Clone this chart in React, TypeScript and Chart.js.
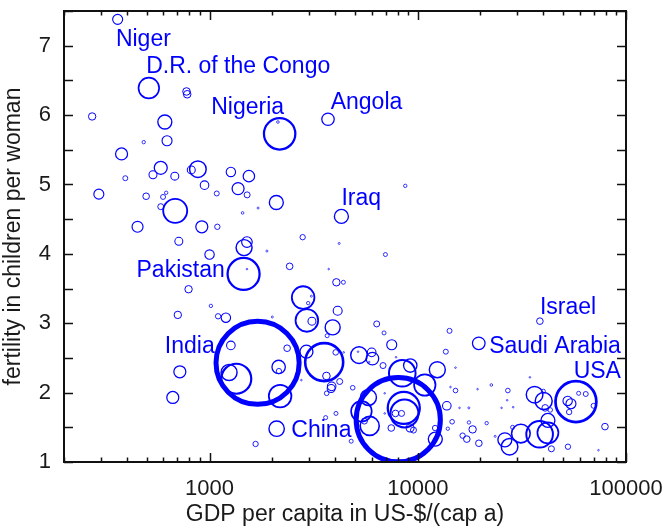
import React, { useEffect, useRef } from 'react';
import { Chart, registerables } from 'chart.js';

Chart.register(...registerables);

// GDP per capita (US-$/(cap a)) of each country
const gdp = [
  362, 511, 775, 781, 273, 610, 2171, 2130, 3706, 483,
  625, 378, 394, 583, 535, 681, 879, 817, 1266, 1545,
  946, 294, 496, 598, 619, 1083, 1371, 1515, 583, 684,
  1441, 1711, 2093, 4297, 451, 918, 1090, 2800, 8708, 712,
  1000, 1465, 1512, 1457, 1512, 1886, 4193, 6993, 2424, 3734,
  793, 2815, 2976, 3083, 4065, 4393, 1015, 704, 1099, 1198,
  2002, 2933, 3103, 4124, 3902, 3671, 6351, 6887, 7499, 1266,
  2358, 2920, 3552, 4035, 4408, 3642, 1701, 2147, 2154, 2182,
  2760, 1241, 1344, 720, 666, 3859, 4217, 3651, 4870, 4048,
  3611, 2100, 1664, 4789, 5222, 5164, 6009, 6056, 5847, 6811,
  7864, 8424, 9204, 10808, 12412, 6937, 5362, 5794, 5877, 5543,
  6937, 7459, 8060, 8565, 8632, 7814, 8358, 9185, 9535, 12140,
  12110, 14205, 13635, 15180, 15180, 14360, 13786, 15866, 17590, 13940,
  14620, 16420, 17200, 18340, 19650, 21420, 17610, 23530, 19370, 22560,
  19630, 27080, 26870, 25260, 28720, 34550, 36390, 40250, 40120, 40930,
  43250, 42170, 38470, 42170, 31270, 28530, 26200, 27600, 43830, 52630,
  73770, 79250, 57480, 52450, 54400, 53330, 59230, 64080, 69870, 38590,
  3838,
];

// fertility (children per woman)
const fertility = [
  7.38, 6.39, 6.34, 6.30, 5.98, 5.90, 5.73, 5.90, 5.94, 5.61,
  5.63, 5.44, 5.09, 5.24, 5.14, 5.12, 5.22, 5.21, 5.18, 5.12,
  4.99, 4.86, 4.83, 4.82, 4.88, 4.87, 4.94, 4.85, 4.68, 4.62,
  4.59, 4.66, 4.74, 4.54, 4.39, 4.39, 4.39, 4.24, 4.98, 4.18,
  3.99, 4.09, 4.17, 3.71, 3.78, 4.04, 4.15, 3.99, 3.82, 3.78,
  3.49, 3.37, 3.29, 3.39, 3.59, 3.59, 3.25, 3.12, 3.10, 3.08,
  3.09, 3.04, 3.03, 3.18, 2.94, 2.82, 2.99, 2.86, 2.69, 2.68,
  2.64, 2.59, 2.44, 2.58, 2.58, 2.24, 2.43, 2.37, 2.31, 1.95,
  2.18, 2.29, 2.20, 2.30, 1.93, 2.09, 2.16, 1.99, 2.07, 1.70,
  1.64, 1.48, 1.26, 1.30, 2.54, 2.59, 2.58, 2.49, 2.44, 2.39,
  2.51, 2.28, 2.39, 2.11, 2.33, 1.99, 1.73, 1.93, 1.52, 1.59,
  1.70, 1.49, 1.61, 1.78, 1.70, 1.70, 1.70, 1.49, 1.46, 1.33,
  1.49, 2.89, 2.59, 2.36, 2.03, 2.08, 1.81, 1.78, 1.78, 1.48,
  1.58, 1.38, 1.33, 1.47, 1.27, 1.56, 1.57, 1.37, 2.05, 2.11,
  2.71, 2.03, 1.89, 1.78, 1.79, 2.22, 1.97, 1.88, 2.02, 1.78,
  1.75, 1.60, 1.40, 1.42, 1.41, 1.50, 1.32, 1.22, 1.19, 1.22,
  1.17, 1.51, 1.87, 1.88, 1.84, 1.72, 1.99, 1.98, 1.81, 3.03,
  2.06,
];

// population (millions), sets the bubble size
const population = [
  17.4, 73.7, 10, 10, 9.5, 34, 171, 1.2, 26.7, 2,
  17.4, 25, 4.3, 29.3, 11.1, 11.1, 47.8, 11.1, 15.3, 22.6,
  12.8, 17.4, 7.6, 4.3, 2, 4.3, 25, 6.25, 6.25, 100,
  1.2, 0.7, 34, 34, 21, 25, 5, 5, 2, 11.1,
  15.3, 44.4, 19.5, 178, 0.45, 0.7, 0.7, 2.8, 7.6, 0.45,
  9.5, 88.7, 2, 0.7, 9.5, 2.8, 2, 9.5, 5, 15.3,
  0.7, 88.7, 11.1, 14, 39, 2.8, 6.25, 2.8, 17.4, 12.8,
  7.6, 29.3, 251, 5.4, 0.45, 10, 1200, 31, 5, 88.7,
  0.45, 44.4, 156, 25, 25, 12.8, 6.25, 3.7, 3.7, 2.8,
  2.8, 41, 5, 2.8, 47.8, 0.45, 12.8, 27.6, 0.45, 6.25,
  0.45, 123, 31, 79.5, 44.4, 0.45, 73.7, 44.4, 62.7, 6.25,
  0.45, 7.6, 1230, 178, 136, 7.6, 6.25, 11.1, 6.25, 34,
  5, 4.3, 4.3, 0.45, 3.7, 0.45, 12.8, 0.45, 0.7, 2,
  3.7, 5, 7.6, 9.5, 7.6, 2, 2, 0.7, 0.45, 1.2,
  27.6, 3.7, 0.45, 0.45, 0.45, 0.45, 47.8, 50, 2.8, 7.6,
  3.7, 34, 123, 76.6, 60, 2.8, 34, 47.8, 6.25, 5,
  0.45, 7.6, 290, 15.3, 17.4, 5, 2.8, 4.3, 4.3, 7.6,
  11.1,
];

// country labels, anchored at (GDP, fertility) of the text baseline start
const labelNames = ['Niger', 'D.R. of the Congo', 'Nigeria', 'Angola', 'Iraq', 'Pakistan', 'India', 'China', 'Israel', 'Saudi Arabia', 'USA'];
const labelGdp = [355, 496, 1019, 3817, 4297, 446, 610, 2471, 38600, 22020, 56060];
const labelFertility = [6.99, 6.60, 6.02, 6.09, 4.705, 3.666, 2.578, 1.355, 3.14, 2.578, 2.213];

const xTickLabels = ['1000', '10000', '100000'];
const yTickLabels = ['1', '2', '3', '4', '5', '6', '7'];

const BLUE = '#0000ff';
const TEXT = '#1a1a1a';
const FONT = "'Liberation Sans', Arial, sans-serif";
const TICK_SIZE = 22;
const TITLE_SIZE = 23;
const LABEL_SIZE = 23;

const framePlugin = {
  id: 'framePlugin',
  afterDatasetsDraw(chart: any) {
    const { ctx, chartArea: a, scales } = chart;
    const xs = scales.x;
    const ys = scales.y;
    ctx.save();
    // country labels
    ctx.fillStyle = BLUE;
    ctx.font = `${LABEL_SIZE}px ${FONT}`;
    ctx.textAlign = 'left';
    ctx.textBaseline = 'alphabetic';
    labelNames.forEach((name, i) => {
      ctx.fillText(name, xs.getPixelForValue(labelGdp[i]), ys.getPixelForValue(labelFertility[i]));
    });
    // frame
    ctx.strokeStyle = '#111';
    ctx.lineWidth = 2;
    ctx.strokeRect(a.left, a.top, a.right - a.left, a.bottom - a.top);
    // x ticks (inside, bottom and top)
    ctx.lineWidth = 1.5;
    ctx.beginPath();
    for (let d = 100; d <= 100000; d *= 10) {
      for (let m = 1; m <= 9; m++) {
        const v = m * d;
        if (v < xs.min - 1e-6 || v > xs.max + 1e-6) continue;
        const px = Math.round(xs.getPixelForValue(v)) + 0.5;
        const len = m === 1 ? 9 : 4.5;
        ctx.moveTo(px, a.bottom);
        ctx.lineTo(px, a.bottom - len);
        ctx.moveTo(px, a.top);
        ctx.lineTo(px, a.top + len);
      }
    }
    // y ticks (inside, left and right)
    for (let v = ys.min; v <= ys.max + 1e-6; v += 0.5) {
      const py = Math.round(ys.getPixelForValue(v)) + 0.5;
      ctx.moveTo(a.left, py);
      ctx.lineTo(a.left + 9, py);
      ctx.moveTo(a.right, py);
      ctx.lineTo(a.right - 9, py);
    }
    ctx.stroke();
    ctx.restore();
  },
};

export default function App() {
  const canvasRef = useRef<HTMLCanvasElement | null>(null);

  useEffect(() => {
    document.body.style.margin = '0';
    const canvas = canvasRef.current;
    if (!canvas) return;
    const points = gdp.map((g, i) => ({ x: g, y: fertility[i], r: 1.2 * Math.sqrt(population[i]) }));
    const bw = (c: any) => 0.6 + ((c.raw && c.raw.r) || 0) / 9.5;
    const chart = new Chart(canvas, {
      type: 'bubble',
      data: {
        datasets: [
          {
            data: points,
            borderColor: BLUE,
            backgroundColor: 'rgba(0,0,0,0)',
            hoverBackgroundColor: 'rgba(0,0,0,0)',
            borderWidth: bw,
            hoverBorderWidth: bw,
            clip: 0,
          } as any,
        ],
      },
      options: {
        animation: false,
        responsive: true,
        maintainAspectRatio: false,
        events: [],
        layout: { autoPadding: false, padding: { left: 0, top: 11, right: 41, bottom: 0 } },
        plugins: { legend: { display: false }, tooltip: { enabled: false } },
        scales: {
          x: {
            type: 'logarithmic',
            min: 200,
            max: 100000,
            grid: { display: false, drawTicks: false },
            border: { display: false },
            ticks: {
              autoSkip: false,
              maxRotation: 0,
              minRotation: 0,
              padding: 14,
              color: TEXT,
              font: { family: FONT, size: TICK_SIZE },
              callback: (v: any) => {
                const s = String(v);
                return xTickLabels.includes(s) ? s : '';
              },
            },
            title: {
              display: true,
              text: 'GDP per capita in US-$/(cap a)',
              color: TEXT,
              font: { family: FONT, size: TITLE_SIZE },
              padding: { top: 0, bottom: 1 },
            },
            afterFit: (s: any) => {
              s.height = 67;
              s.paddingLeft = 0;
              s.paddingRight = 0;
            },
          },
          y: {
            min: 1,
            max: 7.5,
            grid: { display: false, drawTicks: false },
            border: { display: false },
            ticks: {
              stepSize: 0.5,
              padding: 13,
              color: TEXT,
              font: { family: FONT, size: TICK_SIZE },
              callback: (v: any) => {
                const s = String(v);
                return yTickLabels.includes(s) ? s : '';
              },
            },
            title: {
              display: true,
              text: 'fertility in children per woman',
              color: TEXT,
              font: { family: FONT, size: TITLE_SIZE },
              padding: { top: 0, bottom: 0 },
            },
            afterFit: (s: any) => {
              s.width = 64;
              s.paddingTop = 0;
              s.paddingBottom = 0;
            },
          },
        } as any,
      },
      plugins: [framePlugin],
    });
    return () => chart.destroy();
  }, []);

  return (
    <div style={{ width: 667, height: 529, position: 'relative' }}>
      <canvas ref={canvasRef} />
    </div>
  );
}
